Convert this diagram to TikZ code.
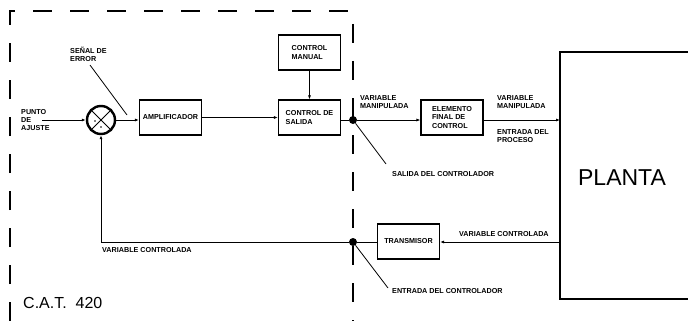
\documentclass[tikz,border=0pt]{standalone}
\usepackage{fontspec}
\setmainfont{Liberation Sans}
\usetikzlibrary{arrows.meta}
\begin{document}
\begin{tikzpicture}[x=1pt,y=-1pt,
  lbl/.style={font=\fontsize{7.2}{8.2}\selectfont\bfseries, inner sep=0pt, align=left},
  blk/.style={draw, line width=1.1pt, minimum width=62pt, minimum height=35pt, inner sep=1pt, font=\fontsize{7.2}{8.2}\selectfont\bfseries, align=left},
  conn/.style={line width=0.9pt, -{Latex[length=4pt,width=3pt]}},
  wire/.style={line width=0.9pt},
  lead/.style={line width=0.8pt},
  dotc/.style={circle, fill, inner sep=0pt, minimum size=8pt},
  frame/.style={line width=1.4pt, dash pattern=on 19pt off 18pt}]
\useasboundingbox (0,0) rectangle (688,321);
% dashed controller frame
\draw[frame] (10,321) -- (10,11) -- (353,11) -- (353,321);
% blocks
\node[draw, circle, line width=2.4pt, minimum size=28pt, inner sep=0pt] (sum) at (101,120) {};
\draw[line width=0.8pt] (sum.north west) -- (sum.south east) (sum.north east) -- (sum.south west);
\fill (sum.center) ++(-6,1) coordinate (d1) circle (0.9pt);
\fill (sum.center) ++(0,7) coordinate (d2) circle (0.9pt);
\node[blk] (amp) at (170.5,117.5) {AMPLIFICADOR};
\node[blk] (man) at (309.5,52.5) {CONTROL\\MANUAL};
\node[blk] (sal) at (309.5,117.5) {CONTROL DE\\SALIDA};
\node[blk] (elem) at (452,117.5) {ELEMENTO\\FINAL DE\\CONTROL};
\node[blk] (trans) at (408.5,241.5) {TRANSMISOR};
\node[dotc] (dout) at (353,120) {};
\node[dotc] (din) at (353,242) {};
% plant (open on the right)
\draw[line width=1.3pt] (688,52) -- (560,52) -- (560,299) -- (688,299);
\node[font=\fontsize{23}{26}\selectfont, inner sep=0pt] (planta) at (622,178) {PLANTA};
\coordinate (pin) at (560,120);
\coordinate (pout) at (560,242);
\coordinate (in) at (42,120);
\coordinate (fbc) at (101,242);
% connectors
\draw[conn] (in) -- (sum.west);
\draw[conn] (sum.east) -- (amp.west |- sum.east);
\draw[conn] (amp.east) -- (sal.west);
\draw[conn] (man.south) -- (sal.north);
\draw[wire] (sal.east |- dout) -- (dout);
\draw[conn] (dout) -- (elem.west |- dout);
\draw[conn] (elem.east |- pin) -- (pin);
\draw[conn] (pout) -- (trans.east |- pout);
\draw[wire] (trans.west |- din) -- (din);
\draw[wire] (din) -- (fbc);
\draw[conn] (fbc) -- (sum.south);
% labels
\node[lbl, anchor=west] (pa) at (21,120) {PUNTO\\DE\\AJUSTE};
\node[lbl, anchor=south west] (se) at (70,62) {SEÑAL DE\\ERROR};
\coordinate (seA) at (90,65);
\coordinate (seB) at (127,115);
\draw[lead] (seA) -- (seB);
\node[lbl, anchor=south west] (vm1) at (360,109) {VARIABLE\\MANIPULADA};
\node[lbl, anchor=south west] (vm2) at (497,109) {VARIABLE\\MANIPULADA};
\node[lbl, anchor=north west] (ep) at (497,129) {ENTRADA DEL\\PROCESO};
\node[lbl, anchor=west] (sc) at (392,174) {SALIDA DEL CONTROLADOR};
\coordinate (scA) at (386,164);
\draw[lead] (dout) -- (scA);
\node[lbl, anchor=west] (ec) at (392,291) {ENTRADA DEL CONTROLADOR};
\coordinate (ecA) at (388,288);
\draw[lead] (din) -- (ecA);
\node[lbl, anchor=south west] (vc1) at (459,237) {VARIABLE CONTROLADA};
\node[lbl, anchor=north west] (vc2) at (102,247) {VARIABLE CONTROLADA};
\node[font=\fontsize{16}{18}\selectfont, anchor=west, inner sep=0pt] (cat) at (23,303) {C.A.T.\ \ 420};
\end{tikzpicture}
\end{document}
